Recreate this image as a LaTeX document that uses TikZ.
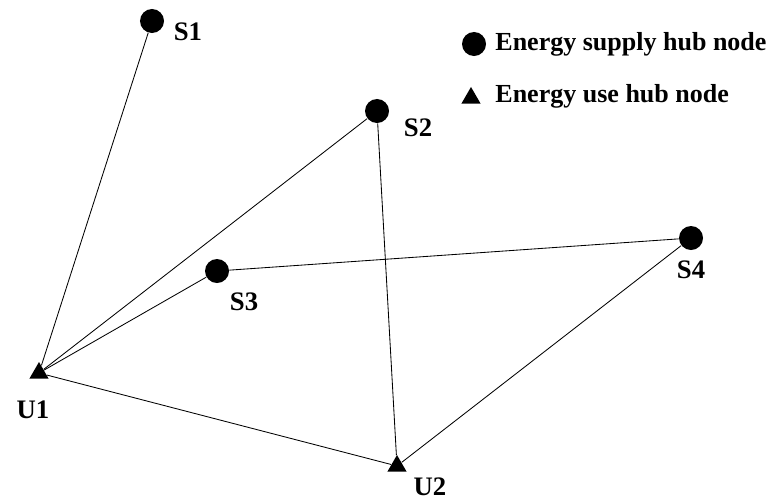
\documentclass[tikz,border=0pt]{standalone}
\usepackage{fontspec}
\setmainfont{Liberation Serif}
\usetikzlibrary{shapes.geometric}
\tikzset{hub/.style={circle,fill,inner sep=0pt,minimum size=0.6cm},usr/.style={regular polygon,regular polygon sides=3,fill,inner sep=0pt,minimum size=0.55cm},lbl/.style={font=\fontsize{19}{22}\selectfont\bfseries,inner sep=0pt,anchor=base},lgd/.style={font=\fontsize{18.5}{22}\selectfont\bfseries,inner sep=0pt,anchor=base west}}

\begin{document}
\begin{tikzpicture}[x=0.025cm,y=-0.025cm,line width=0.6pt]
\useasboundingbox(0,0)rectangle(774,500);
\node[hub](S1)at(152,21){};\node[hub](S2)at(377,111){};\node[hub](S3)at(217,271){};\node[hub](S4)at(691,238){};
\node[usr](U1)at(39,373){};\node[usr](U2)at(397,466){};
\draw(S1)--(U1);\draw(S2)--(U1);\draw(S3)--(U1);\draw(S3)--(S4);\draw(S2)--(U2);\draw(U1)--(U2);\draw(S4)--(U2);
\node[lbl](tS1)at(188,40){S1};\node[lbl](tS2)at(418,136){S2};\node[lbl](tS3)at(244,310){S3};\node[lbl](tS4)at(691,278){S4};
\node[lbl](tU1)at(33,418){U1};\node[lbl](tU2)at(430,495){U2};
% legend
\node[hub](kS)at(474,44){};\node[lgd](tkS)at(495,50){Energy supply hub node};
\node[usr](kU)at(471,98){};\node[lgd](tkU)at(495,102){Energy use hub node};
\end{tikzpicture}
\end{document}
